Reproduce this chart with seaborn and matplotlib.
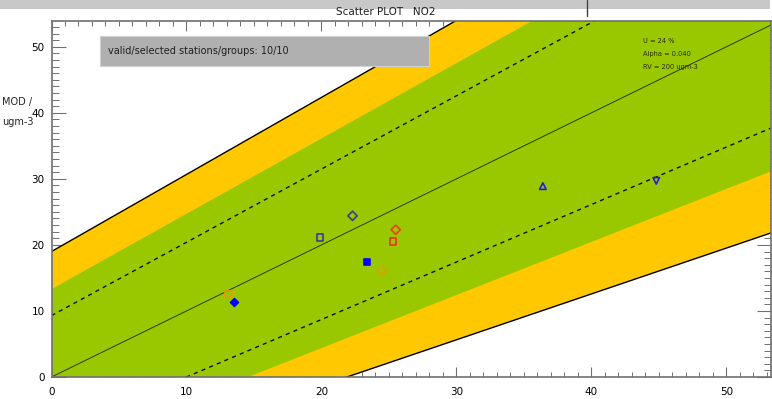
import numpy as np
import pandas as pd
import seaborn as sns
import matplotlib.pyplot as plt
from matplotlib.patches import Rectangle
from matplotlib.ticker import MultipleLocator

# band edges at x = 0 and x = 54
edge_x = [0, 54]
upper_outer = [19.0, 82.0]
upper_band = [13.3, 74.9]
upper_dash = [9.3, 69.2]
one_to_one = [0, 54]
lower_dash = [-8.7, 38.3]
lower_band = [-11.7, 31.7]
lower_outer = [-15.2, 22.3]

# stations
obs = [13.5, 13.1, 19.9, 22.3, 25.5, 25.3, 23.4, 24.5, 36.4, 44.8]
mod = [11.4, 12.6, 21.1, 24.4, 22.3, 20.5, 17.4, 16.1, 28.9, 29.7]
markers = ['D', 's', 's', 'D', 'D', 's', 's', 'D', '^', 'v']
colors = ['#0000ff', '#e0a000', '#3a3a9a', '#3a3a9a', '#f04010',
          '#f03010', '#0000ff', '#e0a000', '#2020d0', '#2020d0']
filled = [True, False, False, False, False, False, True, False, False, False]

df = pd.DataFrame({'obs': obs, 'mod': mod, 'marker': markers,
                   'color': colors, 'filled': filled})

GREEN = '#99c800'
YELLOW = '#ffc800'

sns.set_theme(style='white')
plt.rcParams['font.family'] = ['DejaVu Sans']

fig = plt.figure(figsize=(7.72, 3.99), dpi=100)
ax = fig.add_axes([51.5 / 772, 22 / 399, (771 - 51.5) / 772, (378 - 22) / 399])

ax.fill_between(edge_x, lower_outer, upper_outer, color=YELLOW, lw=0, zorder=1)
ax.fill_between(edge_x, lower_band, upper_band, color=GREEN, lw=0, zorder=1)

sns.lineplot(x=edge_x, y=upper_outer, color='black', lw=1.0, ax=ax, zorder=2)
sns.lineplot(x=edge_x, y=lower_outer, color='black', lw=1.0, ax=ax, zorder=2)
sns.lineplot(x=edge_x, y=upper_dash, color='#111111', lw=1.0, ax=ax,
             linestyle=(0, (3, 3)), zorder=2)
sns.lineplot(x=edge_x, y=lower_dash, color='#111111', lw=1.0, ax=ax,
             linestyle=(0, (3, 3)), zorder=2)
sns.lineplot(x=edge_x, y=one_to_one, color='#2e3a00', lw=0.7, ax=ax, zorder=2)

for _, r in df.iterrows():
    size = 16 if r['filled'] else 22
    sns.scatterplot(x=[r['obs']], y=[r['mod']], marker=r['marker'], s=size,
                    facecolor=r['color'] if r['filled'] else 'none',
                    edgecolor=r['color'], linewidth=1.2, ax=ax, zorder=4)

ax.set_xlim(0, 53.3)
ax.set_ylim(0, 53.9)
ax.xaxis.set_major_locator(MultipleLocator(10))
ax.xaxis.set_minor_locator(MultipleLocator(1))
ax.yaxis.set_major_locator(MultipleLocator(10))
ax.yaxis.set_minor_locator(MultipleLocator(1))
ax.tick_params(axis='x', which='major', direction='in', length=7, width=0.8,
               colors='#707070', labelcolor='black', labelsize=7.5, pad=7,
               top=True, bottom=True)
ax.tick_params(axis='x', which='minor', direction='in', length=3.5, width=0.7,
               colors='#707070', top=True, bottom=True)
ax.tick_params(axis='y', which='major', direction='in', length=10, width=0.8,
               colors='#707070', labelcolor='black', labelsize=7.5, pad=5,
               left=True, right=True)
ax.tick_params(axis='y', which='minor', direction='in', length=5, width=0.7,
               colors='#707070', left=True, right=True)
for sp in ax.spines.values():
    sp.set_color('#707070')
    sp.set_linewidth(1.2)
    sp.set_zorder(5)
ax.set_xlabel('')
ax.set_ylabel('')

# info box
ax.add_patch(Rectangle((3.6, 47.1), 24.4, 4.6, facecolor='#b0b0b0',
                       edgecolor='#d0d0d0', lw=0.8, zorder=6))
ax.text(4.2, 49.3, 'valid/selected stations/groups: 10/10', fontsize=7,
        va='center', ha='left', color='#202020', zorder=7)

ax.text(43.8, 50.8, 'U = 24 %', fontsize=4.8, color='#2a2a00', va='center')
ax.text(43.8, 48.9, 'Alpha = 0.040', fontsize=4.8, color='#2a2a00', va='center')
ax.text(43.8, 47.0, 'RV = 200 ugm-3', fontsize=4.8, color='#2a2a00', va='center')

fig.text(0.5, 1 - 12 / 399, 'Scatter PLOT   NO2', ha='center', va='center',
         fontsize=7.5, color='#202020')
fig.text(2 / 772, 1 - 102 / 399, 'MOD /', ha='left', va='center', fontsize=7)
fig.text(2 / 772, 1 - 122 / 399, 'ugm-3', ha='left', va='center', fontsize=7)

# grey strip of the window above the plot
fig.patches.append(Rectangle((0, 1 - 9 / 399), 770 / 772, 9 / 399,
                             transform=fig.transFigure, facecolor='#c8c8c8',
                             edgecolor='none'))
fig.lines.append(plt.Line2D([587 / 772, 587 / 772], [1, 1 - 16 / 399],
                            transform=fig.transFigure, color='#404040', lw=1))

fig.savefig('out.png', dpi=100)
